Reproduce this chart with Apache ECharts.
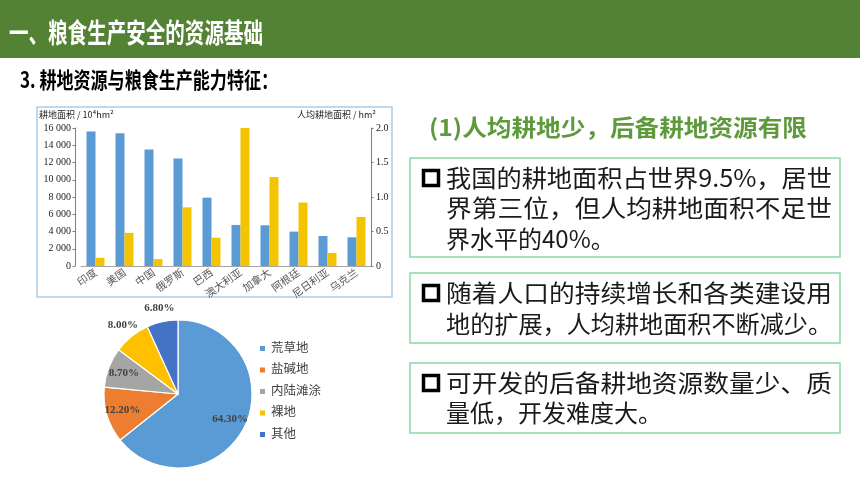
<!DOCTYPE html>
<html><head><meta charset="utf-8">
<script src="https://cdn.jsdelivr.net/npm/echarts@6/dist/echarts.min.js"></script>
<style>html,body{margin:0;padding:0;background:#fff}#c{width:860px;height:484px}</style>
</head><body><div id="c"></div>
<script>
// ---- data ----
const countries = ['印度','美国','中国','俄罗斯','巴西','澳大利亚','加拿大','阿根廷','尼日利亚','乌克兰'];
const arableArea = [15600, 15400, 13500, 12450, 7920, 4760, 4720, 3990, 3480, 3330]; // 10^4 hm²
const arablePerCapita = [0.12, 0.48, 0.10, 0.85, 0.41, 2.0, 1.29, 0.92, 0.19, 0.71]; // hm²
const leftTicks = {min: 0, max: 16000, interval: 2000};
const rightTicks = {min: 0, max: 2.0, interval: 0.5};
const landTypes = ['荒草地','盐碱地','内陆滩涂','裸地','其他'];
const landShares = [64.3, 12.2, 8.7, 8.0, 6.8];

const title = '一、粮食生产安全的资源基础';
const subtitle = '3. 耕地资源与粮食生产能力特征：';
const heading = '(1)人均耕地少，后备耕地资源有限';
const leftAxisName = '耕地面积 / 10⁴hm²';
const rightAxisName = '人均耕地面积 / hm²';
const boxes = [
  ['我国的耕地面积占世界9.5%，居世','界第三位，但人均耕地面积不足世','界水平的40%。'],
  ['随着人口的持续增长和各类建设用','地的扩展，人均耕地面积不断减少。'],
  ['可开发的后备耕地资源数量少、质','量低，开发难度大。']
];

const chart = echarts.init(document.getElementById('c'), null, {renderer:'canvas'});
const CJK = '"Noto Sans CJK SC", "Noto Sans", sans-serif';
const SERIF = '"Liberation Serif", "DejaVu Serif", "Noto Sans CJK SC", serif';
const pieColors = ['#5B9BD5','#ED7D31','#A5A5A5','#FFC000','#4472C4'];
const fmtThousand = v => v >= 1000 ? Math.floor(v/1000) + ' ' + String(v%1000).padStart(3,'0') : String(v);

const mctx = document.createElement('canvas').getContext('2d');
function measure(text, font){ mctx.font = font; return mctx.measureText(text).width; }
function fitText(x, y, text, font, fill, targetW, extra){
  const w = measure(text, font);
  const s = targetW ? targetW / w : 1;
  return Object.assign({type:'text', x:x, y:y, scaleX:s, scaleY:1, originX:0, originY:0,
    style:{text:text, fill:fill, font:font, textVerticalAlign:'middle'}}, extra || {});
}

// graphic elements
const g = [];
g.push({type:'rect', shape:{x:0,y:0,width:860,height:58}, style:{fill:'#548235'}, z:0});
g.push(fitText(9, 33, title, 'bold 27px ' + CJK, '#fff', 254));
g.push(fitText(20, 80, subtitle, 'bold 22px ' + CJK, '#000', 258));
g.push({type:'rect', shape:{x:37,y:107,width:355,height:190}, style:{fill:'none', stroke:'#A9CDEB', lineWidth:1.5}, z:0});
g.push({type:'text', x:39, y:115, style:{text:leftAxisName, fill:'#222', font:'9px ' + CJK, textVerticalAlign:'middle'}});
g.push({type:'text', x:376, y:115, style:{text:rightAxisName, fill:'#222', font:'9px ' + CJK, textVerticalAlign:'middle', textAlign:'right'}});
g.push(fitText(429, 127, heading, 'bold 23px ' + CJK, '#5E9A3C', 378));

const boxGeom = [
  {y:158, h:99, lines:[178,208,239]},
  {y:273, h:70, lines:[293,324]},
  {y:363, h:70, lines:[383,413]}
];
const bodyFont = '24px ' + CJK;
boxes.forEach((lines, i) => {
  const b = boxGeom[i];
  g.push({type:'rect', shape:{x:410, y:b.y, width:430, height:b.h}, style:{fill:'#fff', stroke:'#8CD9A8', lineWidth:1.5}});
  g.push({type:'rect', shape:{x:423.5, y:b.lines[0]-7.5, width:15, height:15}, style:{fill:'none', stroke:'#000', lineWidth:3.5}});
  lines.forEach((t, j) => {
    const justify = j < lines.length - 1 || measure(t, bodyFont) > 380;
    g.push(fitText(446, b.lines[j], t, bodyFont, '#1a1a1a', justify ? 386 : null));
  });
});

const pieData = landTypes.map((n, i) => ({name:n, value:landShares[i]}));
const labelFmt = p => p.value.toFixed(2) + '%';
const labelStyle = {color:'#404040', fontFamily:SERIF, fontWeight:'bold', fontSize:11};

chart.setOption({
  animation:false,
  color: pieColors,
  graphic: g,
  grid:{left:81, right:489, top:128, bottom:218, containLabel:false},
  xAxis:{type:'category', data:countries,
    axisLine:{lineStyle:{color:'#A6A6A6'}}, axisTick:{show:false},
    axisLabel:{rotate:35, fontSize:10.5, color:'#595959', fontFamily:CJK, margin:5, interval:0}},
  yAxis:[
    {type:'value', min:leftTicks.min, max:leftTicks.max, interval:leftTicks.interval, splitLine:{show:false}, offset:6,
      axisLine:{show:true, lineStyle:{color:'#7F7F7F'}}, axisTick:{show:true, length:2.5, lineStyle:{color:'#7F7F7F'}},
      axisLabel:{formatter:fmtThousand, fontSize:10, color:'#222', fontFamily:SERIF, margin:4}},
    {type:'value', min:rightTicks.min, max:rightTicks.max, interval:rightTicks.interval, splitLine:{show:false}, position:'right',
      axisLine:{show:true, lineStyle:{color:'#7F7F7F'}}, axisTick:{show:true, length:2.5, lineStyle:{color:'#7F7F7F'}},
      axisLabel:{formatter: v => v === 0 ? '0' : v.toFixed(1), fontSize:10, color:'#222', fontFamily:SERIF, margin:5}}
  ],
  legend:{orient:'vertical', left:253, top:337, itemWidth:7, itemHeight:7, itemGap:8.5, padding:5,
    icon:'rect', data:landTypes,
    textStyle:{fontSize:12.5, lineHeight:13, color:'#404040', fontFamily:SERIF}},
  series:[
    {type:'bar', name:'耕地面积', data:arableArea, yAxisIndex:0, barWidth:9, barGap:'0%', itemStyle:{color:'#5B9BD5'}},
    {type:'bar', name:'人均耕地面积', data:arablePerCapita, yAxisIndex:1, barWidth:9, barGap:'0%', itemStyle:{color:'#F5C400'}},
    {type:'pie', center:[178,394], radius:[0,74], startAngle:90, clockwise:true, data:pieData,
      itemStyle:{borderColor:'#fff', borderWidth:1.2}, label:{show:false}, labelLine:{show:false}},
    {type:'pie', center:[178,394], radius:[0,110], startAngle:90, clockwise:true, silent:true, legendHoverLink:false,
      data: pieData.map((d,i)=>({name:d.name, value:d.value, label:{show:i<3}})),
      itemStyle:{color:'rgba(0,0,0,0)'}, labelLine:{show:false}, z:5,
      label:Object.assign({position:'inside', formatter:labelFmt}, labelStyle)},
    {type:'pie', center:[178,394], radius:[0,170], startAngle:90, clockwise:true, silent:true, legendHoverLink:false,
      data: pieData.map((d,i)=>({name:d.name, value:d.value, label:{show:i>=3}})),
      itemStyle:{color:'rgba(0,0,0,0)'}, labelLine:{show:false}, z:5,
      label:Object.assign({position:'inside', formatter:labelFmt}, labelStyle)}
  ]
});
</script></body></html>
